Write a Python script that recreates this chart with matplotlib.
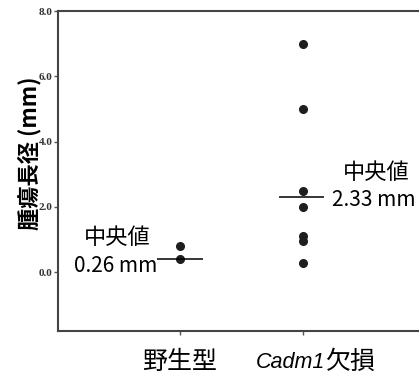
import matplotlib
matplotlib.use('Agg')
import matplotlib.pyplot as plt
import matplotlib.transforms as mtransforms

# data
groups = ['野生型', 'Cadm1欠損']
wild_type = [0.8, 0.4]
cadm1_ko = [7.0, 5.0, 2.5, 2.0, 1.1, 0.95, 0.28]
medians = [0.4, 2.3]
median_labels = ['0.26 mm', '2.33 mm']
yticks = [0.0, 2.0, 4.0, 6.0, 8.0]

jp = ['Noto Sans CJK JP', 'DejaVu Sans']
plt.rcParams['font.family'] = jp

fig = plt.figure(figsize=(4.19, 3.78), dpi=100)
ax = fig.add_axes([58 / 419, 1 - 331 / 378, 361 / 419, 320 / 378])

dot = '#1e1e1e'
ax.plot([1] * len(wild_type), wild_type, 'o', color=dot, markersize=5.5)
ax.plot([2] * len(cadm1_ko), cadm1_ko, 'o', color=dot, markersize=5.5)

# median lines
ax.hlines(medians[0], 1 - 0.187, 1 + 0.187, color='black', linewidth=1.1)
ax.hlines(medians[1], 2 - 0.195, 2 + 0.17, color='black', linewidth=1.1)

ax.set_xlim(0.008, 2.943)
ax.set_ylim(-1.8, 8.0)

ax.set_yticks(yticks)
ax.set_yticklabels(['%.1f' % v for v in yticks], family='Liberation Serif',
                   fontsize=8, fontweight='bold', color='#333333')
ax.set_xticks([1, 2])
ax.set_xticklabels([])
ax.tick_params(axis='both', direction='out', length=3, width=1, color='#555555', pad=1)

for s in ['left', 'bottom', 'top']:
    ax.spines[s].set_color('#444444')
    ax.spines[s].set_linewidth(1.5)
ax.spines['right'].set_visible(False)

ax.set_ylabel('腫瘍長径 (mm)', fontsize=16, fontweight='bold')
ax.yaxis.set_label_coords(-0.047, 0.556)

# group labels under the axis
tr = mtransforms.blended_transform_factory(ax.transData, ax.transAxes)
ax.text(1, -0.097, groups[0], transform=tr, ha='center', va='center', fontsize=18)
ax.text(2.18, -0.097, 'Cadm1', transform=tr, ha='right', va='center', fontsize=15.5,
        family='Liberation Sans', style='italic')
ax.text(2.18, -0.097, '欠損', transform=tr, ha='left', va='center', fontsize=18)

# median annotations
ax.text(0.488, 1.05, '中央値', ha='center', va='center', fontsize=16)
ax.text(0.813, 0.18, median_labels[0], ha='right', va='center', fontsize=15)
ax.text(2.593, 3.05, '中央値', ha='center', va='center', fontsize=16)
ax.text(2.236, 2.22, median_labels[1], ha='left', va='center', fontsize=15)

fig.savefig('out.png', dpi=100)
